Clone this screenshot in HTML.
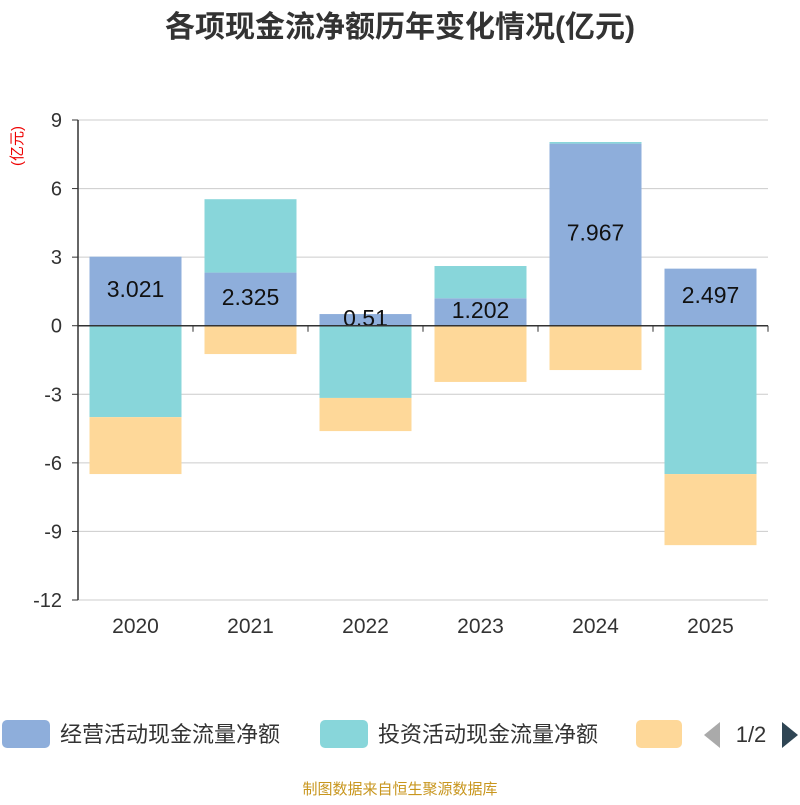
<!DOCTYPE html>
<html><head><meta charset="utf-8">
<style>
body{margin:0;background:#fff;}
svg text{font-family:"Liberation Sans","Noto Sans CJK SC",sans-serif;}
</style></head>
<body>
<svg id="chart" width="800" height="800" xmlns="http://www.w3.org/2000/svg">
<text x="400" y="37" text-anchor="middle" font-size="30" font-weight="bold" fill="#333">各项现金流净额历年变化情况(亿元)</text>
<text transform="translate(22,146) rotate(-90)" text-anchor="middle" font-size="15" fill="#e00">(亿元)</text>
<g id="grid"></g><g id="bars"></g><g id="axes"></g>
<g>
<rect x="2" y="720" width="48" height="28" rx="5" fill="#8eaedb"/>
<text x="60" y="742" font-size="22" fill="#333">经营活动现金流量净额</text>
<rect x="320" y="720" width="48" height="28" rx="5" fill="#88d6da"/>
<text x="378" y="742" font-size="22" fill="#333">投资活动现金流量净额</text>
<rect x="636" y="720" width="46" height="28" rx="5" fill="#fed899"/>
<polygon points="720,722 720,748 704,735" fill="#aaa"/>
<text x="751" y="742" text-anchor="middle" font-size="22" fill="#333">1/2</text>
<polygon points="782,722 782,748 798,735" fill="#2f4554"/>
</g>
<text x="400" y="794" text-anchor="middle" font-size="15" fill="#c8961e">制图数据来自恒生聚源数据库</text>
</svg>
<script>
const categories=["2020","2021","2022","2023","2024","2025"];
const operating=[3.021,2.325,0.51,1.202,7.967,2.497];
const investing=[-4.0,3.21,-3.16,1.41,0.07,-6.49];
const financing=[-2.49,-1.24,-1.45,-2.46,-1.94,-3.11];
const yTicks=[9,6,3,0,-3,-6,-9,-12];
const NS="http://www.w3.org/2000/svg";
const x0=78,x1=768,yTop=120,yBot=600,yMax=9,yMin=-12;
const y=v=>yTop+(yMax-v)/(yMax-yMin)*(yBot-yTop);
const band=(x1-x0)/categories.length;
const xc=i=>x0+band*(i+0.5);
function mk(tag,attrs,parent){const e=document.createElementNS(NS,tag);for(const k in attrs)e.setAttribute(k,attrs[k]);document.getElementById(parent).appendChild(e);return e;}
yTicks.forEach(t=>{
 const l=mk('line',{x1:x0,x2:x1,y1:y(t),y2:y(t),stroke:'#ccc','stroke-width':1},'grid');
 
 
 const tx=mk('text',{x:x0-16,y:y(t)+7,'text-anchor':'end','font-size':20,fill:'#333'},'axes');
 tx.textContent=t;
 
 
});
const series=[[operating,'#8eaedb','operating'],[investing,'#88d6da','investing'],[financing,'#fed899','financing']];
categories.forEach((c,i)=>{
 let pos=0,neg=0;
 series.forEach(([arr,col,nm])=>{
  const v=arr[i];let a,b;
  if(v>=0){a=pos;b=pos+v;pos=b;}else{a=neg;b=neg+v;neg=b;}
  const r=mk('rect',{x:xc(i)-46,width:92,y:Math.min(y(a),y(b)),height:Math.abs(y(a)-y(b)),fill:col},'bars');
  
  
 });
 const v=operating[i];
 const lt=mk('text',{x:xc(i),y:(y(0)+y(v))/2+6,'text-anchor':'middle','font-size':23,fill:'#111'},'bars');
 lt.textContent=v;
 
 
 const xt=mk('text',{x:xc(i),y:633,'text-anchor':'middle','font-size':21,fill:'#333'},'axes');
 xt.textContent=c;
 
 
});
const ya=mk('line',{x1:x0,x2:x0,y1:yTop,y2:yBot,stroke:'#333','stroke-width':1.5},'axes');


yTicks.forEach(t=>{const tk=mk('line',{x1:x0-6,x2:x0,y1:y(t),y2:y(t),stroke:'#333'},'axes');
 
 });
const xa=mk('line',{x1:x0,x2:x1,y1:y(0),y2:y(0),stroke:'#333','stroke-width':1.5},'axes');


for(let i=0;i<=categories.length;i++){const tk=mk('line',{x1:x0+band*i,x2:x0+band*i,y1:y(0),y2:y(0)+6,stroke:'#333'},'axes');
 
 }
</script>
</body></html>
